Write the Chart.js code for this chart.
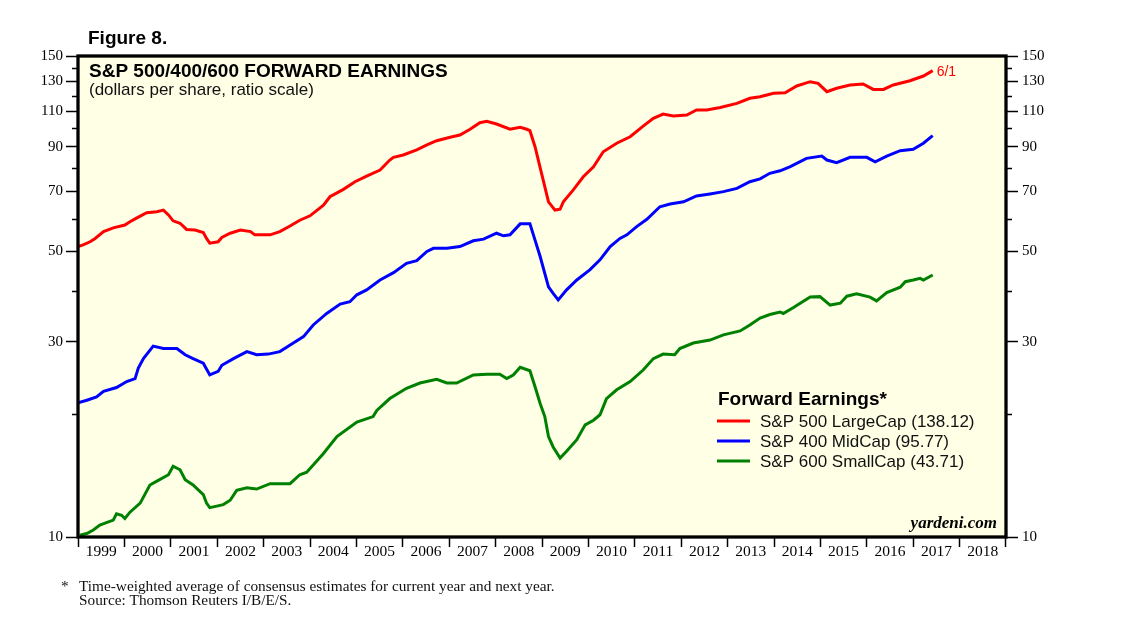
<!DOCTYPE html>
<html>
<head>
<meta charset="utf-8">
<title>S&amp;P 500/400/600 Forward Earnings</title>
<script src="https://cdn.jsdelivr.net/npm/chart.js@4.4.1/dist/chart.umd.min.js"></script>
<style>
  html, body { margin: 0; padding: 0; background: #fff; }
  #wrap { position: relative; width: 1138px; height: 639px; }
</style>
</head>
<body>
<div id="wrap"><canvas id="chart"></canvas></div>
<script>
// year labels on the x axis, one per calendar year
const yearLabels = [1999, 2000, 2001, 2002, 2003, 2004, 2005, 2006, 2007, 2008,
  2009, 2010, 2011, 2012, 2013, 2014, 2015, 2016, 2017, 2018];
const yTicks = [10, 30, 50, 70, 90, 110, 130, 150];
const yMinorTicks = [20, 40, 60, 80, 100, 120, 140];

// S&P 500 LargeCap forward earnings
const largeCapYears = [1999.00, 1999.11, 1999.26, 1999.37, 1999.55, 1999.76, 2000.01, 2000.12, 2000.26, 2000.48,
  2000.70, 2000.84, 2000.95, 2001.05, 2001.20, 2001.34, 2001.52, 2001.70, 2001.77, 2001.84,
  2002.02, 2002.10, 2002.28, 2002.50, 2002.72, 2002.81, 2003.14, 2003.35, 2003.57, 2003.78,
  2004.00, 2004.29, 2004.43, 2004.72, 2004.97, 2005.22, 2005.51, 2005.72, 2005.80, 2006.01,
  2006.30, 2006.52, 2006.73, 2007.02, 2007.23, 2007.45, 2007.66, 2007.81, 2008.02, 2008.31,
  2008.53, 2008.67, 2008.74, 2008.85, 2008.96, 2009.06, 2009.14, 2009.28, 2009.39, 2009.46,
  2009.67, 2009.89, 2010.11, 2010.32, 2010.61, 2010.90, 2011.18, 2011.40, 2011.61, 2011.83,
  2012.12, 2012.33, 2012.55, 2012.84, 2013.20, 2013.48, 2013.70, 2013.99, 2014.24, 2014.49,
  2014.78, 2014.95, 2015.14, 2015.35, 2015.64, 2015.92, 2016.14, 2016.36, 2016.57, 2016.93,
  2017.22, 2017.42];
const largeCapEps = [51.3, 51.8, 52.7, 53.7, 55.8, 57.0, 57.9, 59.0, 60.2, 62.1,
  62.4, 63.0, 61.3, 59.3, 58.5, 56.5, 56.3, 55.5, 53.7, 52.3,
  52.7, 54.0, 55.3, 56.3, 55.8, 54.8, 54.8, 55.8, 57.6, 59.5,
  61.0, 64.8, 67.9, 70.8, 73.9, 76.3, 78.9, 83.5, 84.8, 85.9,
  88.4, 90.9, 93.1, 94.9, 96.1, 99.3, 103.0, 103.8, 102.3, 99.3,
  100.4, 99.3, 98.5, 90.0, 80.0, 71.9, 66.0, 63.0, 63.3, 66.0,
  70.5, 76.0, 80.4, 87.5, 91.8, 95.2, 101.1, 105.6, 108.2, 107.0,
  107.6, 110.7, 110.7, 112.3, 114.9, 118.2, 119.3, 121.6, 122.0, 126.7,
  129.8, 128.6, 122.7, 125.1, 127.4, 128.1, 124.3, 124.3, 127.4, 130.5,
  134.0, 138.12];

// S&P 400 MidCap
const midCapYears = [1999.00, 1999.19, 1999.40, 1999.55, 1999.83, 2000.05, 2000.23, 2000.30, 2000.41, 2000.62,
  2000.84, 2001.13, 2001.31, 2001.48, 2001.70, 2001.84, 2002.02, 2002.10, 2002.35, 2002.64,
  2002.85, 2003.10, 2003.35, 2003.64, 2003.86, 2004.07, 2004.36, 2004.65, 2004.86, 2005.01,
  2005.22, 2005.51, 2005.80, 2006.08, 2006.30, 2006.52, 2006.66, 2006.95, 2007.23, 2007.52,
  2007.74, 2008.02, 2008.17, 2008.31, 2008.53, 2008.74, 2008.85, 2008.96, 2009.06, 2009.14,
  2009.24, 2009.35, 2009.53, 2009.75, 2010.03, 2010.25, 2010.47, 2010.68, 2010.83, 2011.04,
  2011.26, 2011.54, 2011.76, 2012.05, 2012.33, 2012.62, 2012.91, 2013.20, 2013.48, 2013.70,
  2013.91, 2014.13, 2014.34, 2014.70, 2015.03, 2015.14, 2015.35, 2015.64, 2016.00, 2016.18,
  2016.43, 2016.72, 2017.00, 2017.22, 2017.42];
const midCapEps = [21.3, 21.6, 22.0, 22.7, 23.2, 24.0, 24.4, 25.9, 27.3, 29.3,
  28.9, 28.9, 27.9, 27.3, 26.6, 24.9, 25.4, 26.3, 27.3, 28.4,
  27.9, 28.0, 28.4, 29.8, 30.9, 33.0, 35.2, 37.1, 37.6, 39.1,
  40.2, 42.5, 44.3, 46.7, 47.4, 49.9, 50.8, 50.8, 51.3, 53.0,
  53.5, 55.3, 54.5, 54.8, 58.3, 58.3, 53.2, 48.5, 44.1, 40.9,
  39.4, 38.0, 40.2, 42.5, 45.0, 47.6, 51.3, 53.7, 54.8, 57.4,
  59.8, 64.2, 65.2, 66.0, 68.2, 69.0, 69.9, 71.2, 73.9, 75.1,
  77.5, 78.6, 80.4, 84.3, 85.4, 83.5, 82.3, 84.8, 84.8, 82.7,
  85.4, 88.0, 88.7, 91.8, 95.77];

// S&P 600 SmallCap
const smallCapYears = [1999.04, 1999.19, 1999.33, 1999.47, 1999.76, 1999.83, 1999.94, 2000.01, 2000.12, 2000.34,
  2000.55, 2000.70, 2000.95, 2001.05, 2001.20, 2001.31, 2001.48, 2001.70, 2001.77, 2001.84,
  2001.99, 2002.13, 2002.28, 2002.42, 2002.64, 2002.85, 2003.14, 2003.35, 2003.57, 2003.78,
  2003.93, 2004.29, 2004.58, 2005.01, 2005.36, 2005.44, 2005.72, 2006.08, 2006.37, 2006.73,
  2006.95, 2007.16, 2007.52, 2007.81, 2008.09, 2008.24, 2008.38, 2008.53, 2008.74, 2008.85,
  2008.96, 2009.06, 2009.14, 2009.24, 2009.39, 2009.53, 2009.75, 2009.93, 2010.11, 2010.25,
  2010.39, 2010.61, 2010.90, 2011.18, 2011.40, 2011.61, 2011.86, 2011.97, 2012.26, 2012.62,
  2012.91, 2013.27, 2013.48, 2013.70, 2013.91, 2014.13, 2014.20, 2014.42, 2014.78, 2014.99,
  2015.21, 2015.43, 2015.57, 2015.78, 2016.07, 2016.21, 2016.43, 2016.72, 2016.83, 2017.00,
  2017.15, 2017.22, 2017.42];
const smallCapEps = [10.1, 10.2, 10.4, 10.7, 11.0, 11.4, 11.3, 11.1, 11.5, 12.1,
  13.4, 13.7, 14.2, 14.9, 14.6, 13.8, 13.4, 12.7, 12.1, 11.8,
  11.9, 12.0, 12.3, 13.0, 13.2, 13.1, 13.5, 13.5, 13.5, 14.2,
  14.4, 16.0, 17.6, 19.1, 19.7, 20.4, 21.8, 23.1, 23.8, 24.3,
  23.8, 23.8, 24.9, 25.0, 25.0, 24.4, 24.9, 26.0, 25.5, 23.3,
  21.2, 19.7, 17.6, 16.6, 15.6, 16.2, 17.3, 18.8, 19.3, 19.9,
  21.8, 22.9, 24.0, 25.6, 27.3, 28.0, 27.9, 28.9, 29.8, 30.3,
  31.2, 31.9, 33.0, 34.3, 35.0, 35.5, 35.2, 36.4, 38.6, 38.7,
  36.9, 37.3, 38.8, 39.3, 38.6, 37.8, 39.6, 40.8, 42.1, 42.5,
  42.9, 42.5, 43.71];

const SERIF = '"Liberation Serif", "Times New Roman", serif';
const SANS = '"Liberation Sans", Arial, sans-serif';
const PLOT_BG = "#FFFFE6";

const toPoints = (xs, ys) => xs.map((x, i) => ({ x: x, y: ys[i] }));
const lastOf = (arr) => arr[arr.length - 1];

const makeSeries = (name, xs, ys, color) => ({
  label: name + " (" + lastOf(ys).toFixed(2) + ")",
  data: toPoints(xs, ys),
  borderColor: color,
  backgroundColor: color,
  borderWidth: 3,
  pointRadius: 0,
  tension: 0,
  fill: false
});

const yAxis = (position, width, padding) => ({
  type: "logarithmic",
  position: position,
  min: 10,
  max: 150,
  afterBuildTicks: (scale) => {
    scale.ticks = yTicks.map(v => ({ value: v }));
  },
  afterFit: (scale) => {
    scale.width = width;
  },
  ticks: {
    autoSkip: false,
    color: "#000",
    padding: padding,
    font: { family: SERIF, size: 15 },
    callback: (v) => String(v)
  },
  grid: { drawOnChartArea: false, tickLength: 12, tickColor: "#000", tickWidth: 1.5 },
  border: { display: false }
});

// background, frame, minor ticks, titles, legend and notes
const decorations = {
  id: "decorations",
  beforeDraw(chart) {
    const { ctx, chartArea: a } = chart;
    ctx.save();
    ctx.fillStyle = PLOT_BG;
    ctx.fillRect(a.left, a.top, a.right - a.left, a.bottom - a.top);
    ctx.restore();
  },
  afterDraw(chart) {
    const { ctx, chartArea: a } = chart;
    const yl = chart.scales.y;
    const yr = chart.scales.y1;
    ctx.save();

    // minor ticks on both value axes
    ctx.strokeStyle = "#000";
    ctx.lineWidth = 1.5;
    yMinorTicks.forEach(v => {
      const py = Math.round(yl.getPixelForValue(v)) + 0.5;
      ctx.beginPath();
      ctx.moveTo(a.left - 6, py);
      ctx.lineTo(a.left, py);
      ctx.stroke();
      const pr = Math.round(yr.getPixelForValue(v)) + 0.5;
      ctx.beginPath();
      ctx.moveTo(a.right, pr);
      ctx.lineTo(a.right + 6, pr);
      ctx.stroke();
    });

    // frame
    ctx.lineWidth = 3.3;
    ctx.strokeRect(a.left, a.top, a.right - a.left, a.bottom - a.top);

    ctx.textBaseline = "alphabetic";
    ctx.textAlign = "left";
    ctx.fillStyle = "#000";
    ctx.font = "bold 19px " + SANS;
    ctx.fillText("Figure 8.", 88, 44);
    ctx.fillText("S&P 500/400/600 FORWARD EARNINGS", 89, 77);
    ctx.fillStyle = "#111";
    ctx.font = "17px " + SANS;
    ctx.fillText("(dollars per share, ratio scale)", 89, 95);

    // date tag at the end of the S&P 500 line
    const meta = chart.getDatasetMeta(0);
    const endPt = lastOf(meta.data);
    ctx.fillStyle = chart.data.datasets[0].borderColor;
    ctx.font = "14px " + SANS;
    ctx.textBaseline = "middle";
    ctx.fillText("6/1", endPt.x + 4, endPt.y + 1);
    ctx.textBaseline = "alphabetic";

    // legend
    ctx.fillStyle = "#000";
    ctx.font = "bold 19px " + SANS;
    ctx.fillText("Forward Earnings*", 718, 405);
    ctx.font = "17px " + SANS;
    chart.data.datasets.forEach((ds, i) => {
      const ly = 421 + i * 20;
      ctx.strokeStyle = ds.borderColor;
      ctx.lineWidth = 3;
      ctx.beginPath();
      ctx.moveTo(717, ly);
      ctx.lineTo(750, ly);
      ctx.stroke();
      ctx.fillStyle = "#111";
      ctx.fillText(ds.label, 760, ly + 6);
    });

    // watermark
    ctx.fillStyle = "#000";
    ctx.textAlign = "right";
    ctx.font = "italic bold 17px " + SERIF;
    ctx.fillText("yardeni.com", a.right - 9, a.bottom - 9);

    // notes
    ctx.textAlign = "left";
    ctx.fillStyle = "#111";
    ctx.font = "15.3px " + SERIF;
    ctx.fillText("*", 61, 591);
    ctx.fillText("Time-weighted average of consensus estimates for current year and next year.", 79, 591);
    ctx.fillText("Source: Thomson Reuters I/B/E/S.", 79, 605);
    ctx.restore();
  }
};

new Chart(document.getElementById("chart"), {
  type: "line",
  data: {
    datasets: [
      makeSeries("S&P 500 LargeCap", largeCapYears, largeCapEps, "#FF0000"),
      makeSeries("S&P 400 MidCap", midCapYears, midCapEps, "#0000FF"),
      makeSeries("S&P 600 SmallCap", smallCapYears, smallCapEps, "#008000")
    ]
  },
  options: {
    responsive: true,
    maintainAspectRatio: false,
    animation: false,
    devicePixelRatio: 1,
    layout: { padding: { top: 56, left: 0, right: 0, bottom: 0 } },
    plugins: {
      legend: { display: false },
      tooltip: { enabled: false }
    },
    scales: {
      x: {
        type: "linear",
        position: "bottom",
        min: 1999,
        max: 2019,
        afterBuildTicks: (scale) => {
          // one label per year, centred between the year boundary ticks
          scale.ticks = yearLabels.map(y => ({ value: y + 0.5 }));
        },
        afterFit: (scale) => {
          scale.height = 102;
        },
        ticks: {
          autoSkip: false,
          maxRotation: 0,
          color: "#000",
          padding: -4,
          font: { family: SERIF, size: 15.5 },
          callback: (v) => String(Math.floor(v))
        },
        grid: { offset: true, drawOnChartArea: false, tickLength: 10, tickColor: "#000", tickWidth: 1.5 },
        border: { display: false }
      },
      y: yAxis("left", 78, 3),
      y1: yAxis("right", 132, 4)
    }
  },
  plugins: [decorations]
});
</script>
</body>
</html>
